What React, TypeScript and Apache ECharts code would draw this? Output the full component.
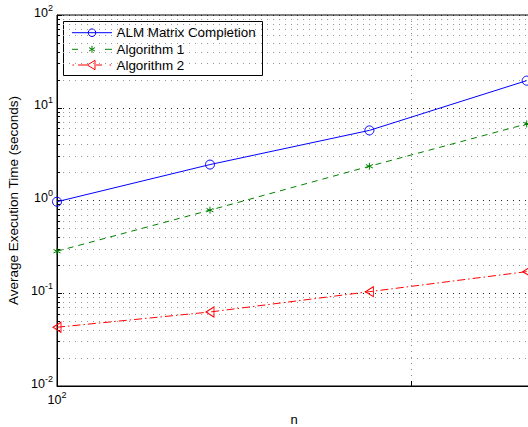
import React, { useEffect, useRef } from "react";
import * as echarts from "echarts";

// Problem sizes and measured average run times (seconds)
const nValues = [100, 270, 760, 2110];
const almTimes = [0.97, 2.44, 5.7, 19.6];
const alg1Times = [0.284, 0.787, 2.34, 6.69];
const alg2Times = [0.043, 0.0628, 0.104, 0.171];

const seriesNames = ["ALM Matrix Completion", "Algorithm 1", "Algorithm 2"];

// Log-axis decades and the in-between (2..9) grid positions
const yDecades = [0.01, 0.1, 1, 10];
const minorFactors = [2, 3, 4, 5, 6, 7, 8, 9];

const FONT = "'Liberation Sans', Arial, Helvetica, sans-serif";
const BLUE = "#0000ff";
const GREEN = "#008000";
const RED = "#ff0000";

const asteriskPath = "path://M5,0L5,10M0.67,2.5L9.33,7.5M0.67,7.5L9.33,2.5";
const leftTrianglePath = "path://M0,5L8,0L8,10Z";

function powerLabel(v: number) {
  const e = Math.round(Math.log10(v));
  return `{b|10}{s|${e}}`;
}

const richPow = {
  b: { fontSize: 12.5, fontFamily: FONT, color: "#000", lineHeight: 12, padding: [4, 0, 2, 0], verticalAlign: "bottom" },
  s: { fontSize: 9, fontFamily: FONT, color: "#000", lineHeight: 9, padding: [0, 0, 9, 0], verticalAlign: "bottom" },
};

export default function App() {
  const ref = useRef<HTMLDivElement>(null);

  useEffect(() => {
    if (!ref.current) return;
    const chart = echarts.init(ref.current, undefined, { renderer: "svg" });

    const minorValues: number[] = [];
    yDecades.forEach((d) => minorFactors.forEach((f) => minorValues.push(d * f)));

    const minorGrid = minorValues.map((v) => ({ yAxis: v }));
    const minorTicks = minorValues.map((v) => [
      { coord: [100, v], lineStyle: { color: "#000", type: "solid", width: 1 } },
      { coord: [102, v] },
    ]);

    const legendRows = [32.7, 49.3, 65];
    const lx = 92;

    chart.setOption({
      animation: false,
      backgroundColor: "#fff",
      textStyle: { fontFamily: FONT },
      grid: {
        left: 57,
        top: 15,
        right: -3,
        bottom: 41,
        show: true,
        borderColor: "#000",
        borderWidth: 1,
        containLabel: false,
        outerBoundsMode: "none",
      },
      xAxis: {
        type: "log",
        logBase: 10,
        min: 100,
        max: 2170,
        name: "n",
        nameLocation: "middle",
        nameGap: 27,
        nameTextStyle: { fontSize: 13, color: "#000", fontFamily: FONT, verticalAlign: "top" },
        axisLine: { show: true, lineStyle: { color: "#000", width: 1 } },
        axisTick: { show: true, inside: true, length: 5, lineStyle: { color: "#000" } },
        splitLine: { show: true, lineStyle: { color: "#888", type: [1, 5], width: 1 } },
        axisLabel: {
          margin: 10,
          formatter: (v: number) => (Math.abs(v - 100) < 1e-6 ? powerLabel(v) : ""),
          rich: richPow,
        },
      },
      yAxis: {
        type: "log",
        logBase: 10,
        min: 0.01,
        max: 100,
        name: "Average Execution Time (seconds)",
        nameLocation: "middle",
        nameGap: 36,
        nameRotate: 90,
        nameTextStyle: { fontSize: 13.5, color: "#000", fontFamily: FONT },
        axisLine: { show: true, lineStyle: { color: "#000", width: 1 } },
        axisTick: { show: true, inside: true, length: 5, lineStyle: { color: "#000" } },
        splitLine: { show: true, lineStyle: { color: "#222", type: [1, 5], width: 1 } },
        axisLabel: {
          margin: 4,
          formatter: powerLabel,
          rich: richPow,
        },
      },
      series: [
        {
          name: "grid",
          type: "line",
          data: [],
          z: 1,
          silent: true,
          markLine: {
            silent: true,
            symbol: ["none", "none"],
            label: { show: false },
            lineStyle: { color: "#999", type: [1, 5], width: 1 },
            data: [...minorGrid, ...minorTicks],
          },
        },
        {
          name: seriesNames[0],
          type: "line",
          data: nValues.map((n, i) => [n, almTimes[i]]),
          symbol: "circle",
          symbolSize: 9,
          itemStyle: { color: "transparent", borderColor: BLUE, borderWidth: 1 },
          lineStyle: { color: BLUE, width: 1, type: "solid" },
          z: 5,
        },
        {
          name: seriesNames[1],
          type: "line",
          data: nValues.map((n, i) => [n, alg1Times[i]]),
          symbol: asteriskPath,
          symbolSize: 7,
          itemStyle: { color: "transparent", borderColor: GREEN, borderWidth: 1 },
          lineStyle: { color: GREEN, width: 1, type: [6, 5] },
          z: 5,
        },
        {
          name: seriesNames[2],
          type: "line",
          data: nValues.map((n, i) => [n, alg2Times[i]]),
          symbol: leftTrianglePath,
          symbolSize: [8, 10],
          itemStyle: { color: "transparent", borderColor: RED, borderWidth: 1 },
          lineStyle: { color: RED, width: 1, type: [8, 3, 1.5, 3] },
          z: 5,
        },
      ],
      graphic: [
        {
          type: "group",
          z: 100,
          children: [
            {
              type: "rect",
              shape: { x: 63.5, y: 21.5, width: 199, height: 54 },
              style: { fill: "#fff", stroke: "#000", lineWidth: 1 },
            },
            // ALM Matrix Completion
            { type: "line", shape: { x1: 72, y1: legendRows[0], x2: 112, y2: legendRows[0] }, style: { stroke: BLUE, lineWidth: 1 } },
            { type: "circle", shape: { cx: lx, cy: legendRows[0], r: 3.8 }, style: { fill: "none", stroke: BLUE, lineWidth: 1 } },
            // Algorithm 1
            { type: "line", shape: { x1: 72, y1: legendRows[1], x2: 78, y2: legendRows[1] }, style: { stroke: GREEN, lineWidth: 1 } },
            { type: "line", shape: { x1: 105, y1: legendRows[1], x2: 112, y2: legendRows[1] }, style: { stroke: GREEN, lineWidth: 1 } },
            { type: "line", shape: { x1: lx, y1: legendRows[1] - 3.5, x2: lx, y2: legendRows[1] + 3.5 }, style: { stroke: GREEN, lineWidth: 1 } },
            { type: "line", shape: { x1: lx - 3, y1: legendRows[1] - 1.75, x2: lx + 3, y2: legendRows[1] + 1.75 }, style: { stroke: GREEN, lineWidth: 1 } },
            { type: "line", shape: { x1: lx - 3, y1: legendRows[1] + 1.75, x2: lx + 3, y2: legendRows[1] - 1.75 }, style: { stroke: GREEN, lineWidth: 1 } },
            // Algorithm 2
            { type: "line", shape: { x1: 72.5, y1: legendRows[2], x2: 74, y2: legendRows[2] }, style: { stroke: RED, lineWidth: 1 } },
            { type: "line", shape: { x1: 78, y1: legendRows[2], x2: 87, y2: legendRows[2] }, style: { stroke: RED, lineWidth: 1 } },
            { type: "line", shape: { x1: 96, y1: legendRows[2], x2: 102, y2: legendRows[2] }, style: { stroke: RED, lineWidth: 1 } },
            { type: "line", shape: { x1: 109.5, y1: legendRows[2], x2: 111, y2: legendRows[2] }, style: { stroke: RED, lineWidth: 1 } },
            {
              type: "polygon",
              shape: { points: [[87.3, legendRows[2]], [95, legendRows[2] - 4.7], [95, legendRows[2] + 4.7]] },
              style: { fill: "none", stroke: RED, lineWidth: 1 },
            },
            ...seriesNames.map((name, i) => ({
              type: "text",
              style: {
                x: 116.5,
                y: legendRows[i],
                text: name,
                fontSize: 13.4,
                fontFamily: FONT,
                fill: "#000",
                verticalAlign: "middle",
              },
            })),
          ],
        },
      ],
    });

    return () => chart.dispose();
  }, []);

  return (
    <div
      ref={ref}
      style={{ position: "absolute", left: 0, top: 0, width: 528, height: 427, background: "#fff" }}
    />
  );
}
